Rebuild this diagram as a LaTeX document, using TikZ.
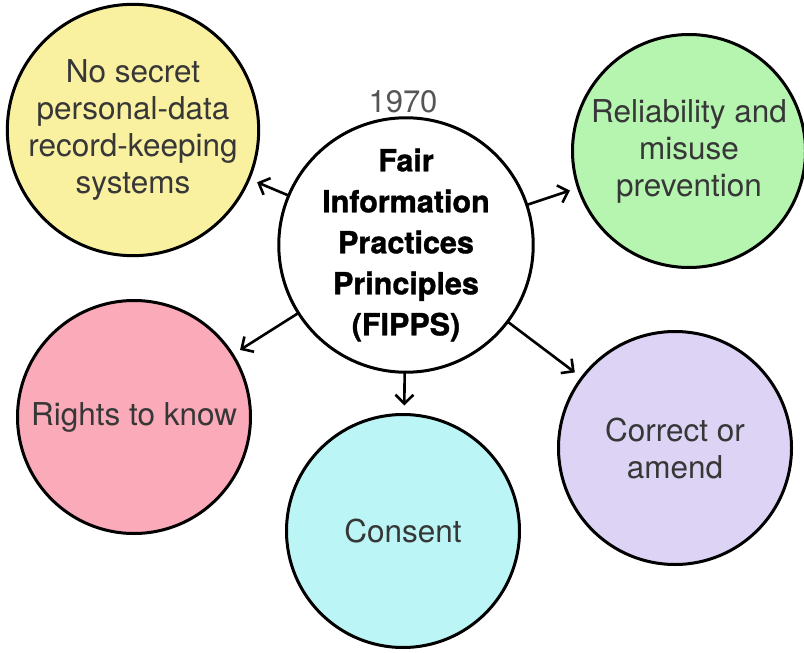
\documentclass[tikz,border=0pt]{standalone}
\usepackage{fontspec}
\setmainfont{TeX Gyre Heros}
\newfontfamily\heavyfont[BoldFeatures={FakeBold=1.2}]{TeX Gyre Heros}
\usetikzlibrary{arrows.meta}
\definecolor{ycol}{RGB}{249,240,160}
\definecolor{gcol}{RGB}{182,245,176}
\definecolor{pcol}{RGB}{250,170,184}
\definecolor{ccol}{RGB}{188,245,245}
\definecolor{vcol}{RGB}{221,212,245}
\definecolor{txtgray}{RGB}{55,55,55}
\definecolor{yeargray}{RGB}{85,85,85}
\begin{document}
\begin{tikzpicture}[x=1pt,y=-1pt,
  bubble/.style={circle, draw=black, line width=3pt, minimum size=233pt,
    inner sep=0pt, outer sep=0pt, align=center, text=txtgray,
    font=\fontsize{31.5}{37}\selectfont},
  arr/.style={-{Straight Barb[length=9pt,width=18pt]}, line width=2.6pt,
    shorten >=9pt}]
\useasboundingbox (0,0) rectangle (804,653);
\node[bubble, fill=white, text=black, font=\heavyfont\bfseries\fontsize{30.5}{41}\selectfont]
  (c) at (406,245) {Fair\\Information\\Practices\\Principles\\(FIPPS)};
\node[bubble, fill=ycol] (y) at (133,130) {No secret\\personal-data\\record-keeping\\systems};
\node[bubble, fill=gcol] (g) at (689,151) {Reliability and\\misuse\\prevention};
\node[bubble, fill=pcol] (p) at (134,417) {Rights to know};
\node[bubble, fill=ccol] (k) at (403,531) {Consent};
\node[bubble, fill=vcol] (v) at (675,448) {Correct or\\amend};
\node[text=yeargray, font=\fontsize{31}{36}\selectfont, anchor=base] (yr) at (403,112) {1970};
\draw[arr] (c) -- (y);
\draw[arr] (c) -- (g);
\draw[arr] (c) -- (p);
\draw[arr] (c) -- (k);
\draw[arr] (c) -- (v);
\end{tikzpicture}
\end{document}
